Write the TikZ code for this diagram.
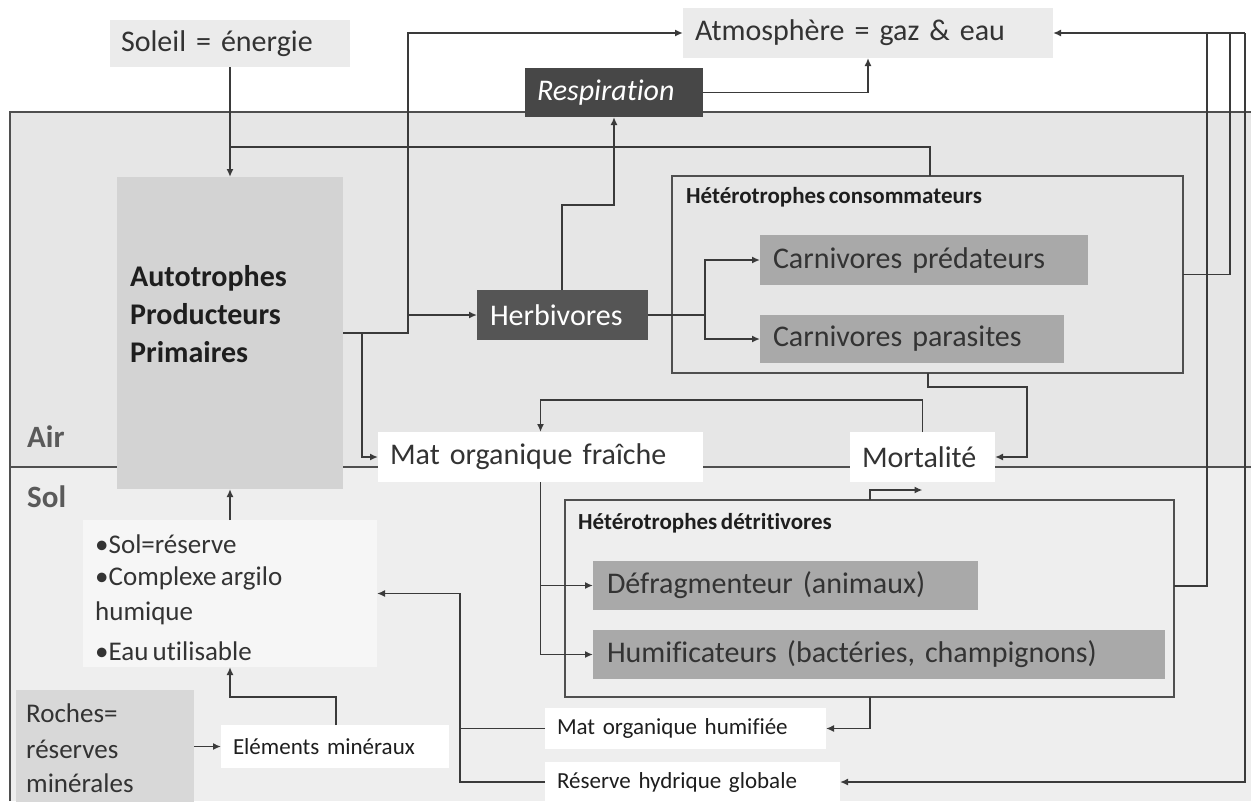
\documentclass[tikz,border=0pt]{standalone}
\usepackage{fontspec}
\setmainfont{Carlito}[Ligatures=NoCommon, WordSpace=0.7]
\usetikzlibrary{arrows.meta}

\definecolor{ink}{HTML}{333333}
\definecolor{inkdark}{HTML}{1E1E1E}
\definecolor{wire}{HTML}{3A3A3A}
\definecolor{edge}{HTML}{4F4F4F}
\definecolor{airbg}{HTML}{E6E6E6}
\definecolor{solbg}{HTML}{EEEEEE}
\definecolor{pale}{HTML}{EBEBEB}
\definecolor{paler}{HTML}{F6F6F6}
\definecolor{autobg}{HTML}{D3D3D3}
\definecolor{herbbg}{HTML}{555555}
\definecolor{respbg}{HTML}{474747}
\definecolor{carn}{HTML}{A9A9A9}
\definecolor{rock}{HTML}{D8D8D8}
\definecolor{zonetxt}{HTML}{5A5A5A}

\begin{document}
\begin{tikzpicture}[x=1pt,y=-1pt,
  card/.style={anchor=north west, inner ysep=0pt, outer sep=0pt, align=left,
    font=\fontsize{30}{36}\selectfont, text=ink},
  small/.style={card, font=\fontsize{23}{28}\selectfont, text=inkdark},
  frame/.style={anchor=north west, draw=edge, line width=1.6pt, inner sep=0pt, outer sep=0pt},
  title/.style={anchor=base west, inner sep=0pt, font=\fontsize{23}{28}\selectfont\bfseries, text=inkdark},
  item/.style={anchor=base west, inner sep=0pt, font=\fontsize{27}{33}\selectfont, text=ink},
  zonelbl/.style={anchor=west, inner sep=0pt, font=\fontsize{31}{36}\selectfont\bfseries, text=zonetxt},
  con/.style={draw=wire, line width=1.7pt},
  arr/.style={con, -{Latex[length=8pt,width=7pt]}},
  zone/.style={draw=edge, line width=1.5pt}]

\useasboundingbox (0,0) rectangle (1251,801);
\fill[white] (0,0) rectangle (1251,801);

% air and soil layers
\fill[airbg] (10,112) rectangle (1251,467);
\fill[solbg] (10,467) rectangle (1251,801);
\draw[zone] (10,801) -- (10,112) -- (1251,112);
\draw[zone] (10,467) -- (1251,467);
\node[zonelbl] (air) at (27,437) {Air};
\node[zonelbl] (sol) at (27,497) {Sol};

% sources and atmosphere
\node[card, fill=pale, inner xsep=11pt, text width=218pt, minimum height=47pt] (soleil) at (110,20) {Soleil = énergie};
\node[card, fill=pale, inner xsep=12pt, text width=346pt, minimum height=50pt] (atmos) at (683,8) {Atmosphère = gaz \& eau};
\node[card, fill=respbg, text=white, font=\fontsize{30}{36}\selectfont\itshape,
      inner xsep=12pt, text width=154pt, minimum height=49pt] (resp) at (525,68) {Respiration};

% producers
\node[card, fill=autobg, inner sep=0pt, minimum width=226pt, minimum height=312pt] (auto) at (117,177) {};
\node[anchor=west, align=left, inner sep=0pt, font=\fontsize{30}{38}\selectfont\bfseries, text=inkdark]
      (autotxt) at (130,314) {Autotrophes\\Producteurs\\Primaires};

% consumers
\node[card, fill=herbbg, text=white, inner xsep=13pt, text width=145pt, minimum height=50pt] (herb) at (477,290) {Herbivores};
\node[frame, minimum width=511pt, minimum height=197pt] (cons) at (672,176) {};
\node[title] (constitle) at (686,203) {Hétérotrophes consommateurs};
\node[card, fill=carn, inner xsep=13pt, text width=302pt, minimum height=50pt] (cpred) at (760,235) {Carnivores prédateurs};
\node[card, fill=carn, inner xsep=13pt, text width=278pt, minimum height=48pt] (cpara) at (760,315) {Carnivores parasites};

% dead matter
\node[card, fill=white, inner xsep=12pt, text width=301pt, minimum height=50pt] (matfr) at (378,432) {Mat organique fraîche};
\node[card, fill=white, inner xsep=12pt, text width=121pt, minimum height=50pt] (mort) at (850,432) {Mortalité};

% decomposers
\node[frame, minimum width=609pt, minimum height=197pt] (detr) at (565,500) {};
\node[title] (detrtitle) at (578,529) {Hétérotrophes détritivores};
\node[card, fill=carn, inner xsep=14pt, text width=357pt, minimum height=49pt] (defr) at (593,561) {Défragmenteur (animaux)};
\node[card, fill=carn, inner xsep=14pt, text width=544pt, minimum height=49pt] (humif) at (593,630) {Humificateurs (bactéries, champignons)};

% soil reserve
\node[card, fill=paler, inner sep=0pt, minimum width=294pt, minimum height=147pt] (solres) at (83,520) {};
\node[item] (s1) at (95,553) {•Sol=réserve};
\node[item] (s2) at (95,585) {•Complexe argilo};
\node[item] (s3) at (95,620) {humique};
\node[item] (s4) at (95,660) {•Eau utilisable};

% rocks and mineral side
\node[card, fill=rock, inner sep=0pt, minimum width=178pt, minimum height=113pt] (roches) at (16,690) {};
\node[item] (r1) at (26,722) {Roches=};
\node[item] (r2) at (26,758) {réserves};
\node[item] (r3) at (26,792) {minérales};
\node[small, fill=white, inner xsep=12pt, text width=204pt, minimum height=43pt] (elem) at (221,725) {Eléments minéraux};
\node[small, fill=white, inner xsep=12pt, text width=257pt, minimum height=41pt] (mathu) at (545,708) {Mat organique humifiée};
\node[small, fill=white, inner xsep=12pt, text width=271pt, minimum height=40pt] (reserv) at (545,762) {Réserve hydrique globale};

% junction points
\coordinate (sunj) at (230,147);
\coordinate (trunk) at (408,333);
\coordinate (hj) at (705,315);
\coordinate (mj) at (1027,387);
\coordinate (rc1) at (1207,33);
\coordinate (rc2) at (1230,33);
\coordinate (rc3) at (1245,33);

% energy and producers
\draw[arr] (soleil.south) -- (auto.north);
\draw[con] (sunj) -| ([xshift=258pt]cons.north west);
\draw[arr] (auto.east) -- (trunk) |- (atmos.west);
\draw[arr] (trunk |- herb.west) -- (herb.west);
\draw[arr] ([xshift=19pt]auto.east) |- (matfr.west);

% respiration
\draw[arr] ([xshift=85pt]herb.north west) -- ++(0,-85) -| (resp.south);
\draw[arr] (resp.east) -| (atmos.south);

% consumers
\draw[con] (herb.east) -- (hj);
\draw[arr] (hj) |- (cpred.west);
\draw[arr] (hj) |- (cpara.west);

% right-hand rails towards the atmosphere
\draw[arr] (rc3) -- (atmos.east);
\draw[con] (cons.east) -| (rc2);
\draw[con] ([yshift=12.5pt]detr.east) -| (rc1);
\draw[arr] (rc3) |- (reserv.east);

% mortality and fresh matter
\draw[arr] ([xshift=256pt]cons.south west) |- (mj) |- (mort.east);
\draw[arr] (mort.north) -- ++(0,-32) -| (matfr.north);
\draw[arr] (matfr.south) |- (humif.west);
\draw[arr] (matfr.south |- defr.west) -- (defr.west);
\draw[arr] ([xshift=305pt]detr.north west) |- ([yshift=-8pt]mort.south);
\draw[arr] ([xshift=305pt]detr.south west) |- (mathu.east);

% soil side
\draw[arr] (mathu.west) -| ([xshift=83pt]solres.east) -- (solres.east);
\draw[con] (reserv.west) -| ([xshift=83pt]solres.east);
\draw[arr] ([xshift=115pt]elem.north west) -- ++(0,-28) -| (solres.south);
\draw[arr] (solres.north) -- (auto.south);
\draw[arr] (roches.east) -- (elem.west);

\end{tikzpicture}
\end{document}
